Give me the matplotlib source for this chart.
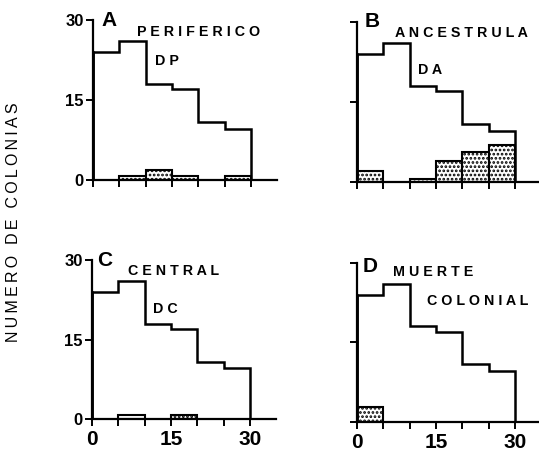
import numpy as np
import matplotlib
matplotlib.use("Agg")
import matplotlib.pyplot as plt

plt.rcParams['font.family'] = ['Liberation Sans', 'DejaVu Sans']
plt.rcParams['hatch.linewidth'] = 1.3

bin_edges = [0, 5, 10, 15, 20, 25, 30]
total_colonies = [24, 26, 18, 17, 10.8, 9.6]

shaded_A = [0, 0.8, 1.8, 0.8, 0, 0.8]
shaded_B = [2, 0, 0.6, 3.8, 5.6, 6.9]
shaded_C_open = [0, 0.8, 0, 0, 0, 0]
shaded_C = [0, 0, 0, 0.8, 0, 0]
shaded_D = [2.8, 0, 0, 0, 0, 0]

panel_letters = ['A', 'B', 'C', 'D']
panel_titles = [['PERIFERICO', 'DP'], ['ANCESTRULA', 'DA'],
                ['CENTRAL', 'DC'], ['MUERTE', 'COLONIAL']]
xtick_vals = [0, 5, 10, 15, 20, 25, 30]
xtick_labels = ['0', '', '', '15', '', '', '30']
ytick_vals = [0, 15, 30]
ytick_labels = ['0', '15', '30']
y_label = 'NUMERO DE COLONIAS'


def spaced(s, sep=' '):
    return sep.join(list(s))


W, H = 539, 451
fig = plt.figure(figsize=(W / 100, H / 100), dpi=100)

rects = [
    (93, 180, 20),
    (357, 181.7, 21.7),
    (92, 419, 260),
    (357, 421.7, 262.7),
]
ppu = 5.26
axes = []
for (x0, y0, y30) in rects:
    left = x0 / W
    width = 35 * ppu / W
    bottom = 1 - y0 / H
    height = (y0 - y30) / H
    axes.append(fig.add_axes([left, bottom, width, height]))

edges = np.array(bin_edges)
widths = np.diff(edges)


def draw_shade(ax, vals, hatch='....', fill='white'):
    vals = np.array(vals, dtype=float)
    m = vals > 0
    ax.bar(edges[:-1][m], vals[m], width=widths[m], align='edge',
           facecolor=fill, edgecolor='black', hatch=hatch, linewidth=1.5,
           zorder=2)


for i, ax in enumerate(axes):
    ax.stairs(total_colonies, bin_edges, color='black', linewidth=1.8,
              zorder=3)
    ax.plot([bin_edges[0], bin_edges[0]], [0, total_colonies[0]],
            color='black', lw=1.8, zorder=3)
    ax.set_xlim(0, 35)
    ax.set_ylim(0, 30)
    for s in ['top', 'right']:
        ax.spines[s].set_visible(False)
    for s in ['left', 'bottom']:
        ax.spines[s].set_linewidth(1.6)
    ax.spines['left'].set_bounds(0, 30)
    ax.set_xticks(xtick_vals)
    ax.set_yticks(ytick_vals)
    ax.tick_params(axis='both', direction='out', length=5, width=1.4)
    ax.tick_params(axis='x', labelsize=15, pad=3)
    ax.tick_params(axis='y', labelsize=12, pad=1.5)
    if i >= 2:
        ax.set_xticklabels(xtick_labels, fontweight='bold')
    else:
        ax.set_xticklabels([])
    if i % 2 == 0:
        ax.set_yticklabels(ytick_labels, fontweight='bold')
    else:
        ax.set_yticklabels([])
    ax.set_facecolor('none')

draw_shade(axes[0], shaded_A)
draw_shade(axes[1], shaded_B)
draw_shade(axes[2], shaded_C_open, hatch=None)
draw_shade(axes[2], shaded_C)
draw_shade(axes[3], shaded_D)

letter_pos = [(1.6, 30), (1.4, 30), (1.0, 30), (1.1, 29.2)]
t1_pos = [(8.4, 27.8), (7.2, 27.9), (6.8, 27.9), (6.8, 28.2)]
t2_pos = [(11.8, 22.3), (11.6, 20.9), (11.6, 20.8), (13.3, 22.8)]
for i, ax in enumerate(axes):
    ax.text(*letter_pos[i], panel_letters[i], fontsize=15, fontweight='bold',
            ha='left', va='center', clip_on=False)
    ax.text(*t1_pos[i], spaced(panel_titles[i][0]), fontsize=10.3,
            fontweight='bold', ha='left', va='center', clip_on=False)
    ax.text(*t2_pos[i], spaced(panel_titles[i][1]), fontsize=10.3,
            fontweight='bold', ha='left', va='center', clip_on=False)

ylab = '\u2009'.join(list(y_label))
fig.text(14 / W, 1 - 222 / H, ylab, rotation=90,
         fontsize=11.5, ha='center', va='center')

fig.savefig('out.png', dpi=100)
